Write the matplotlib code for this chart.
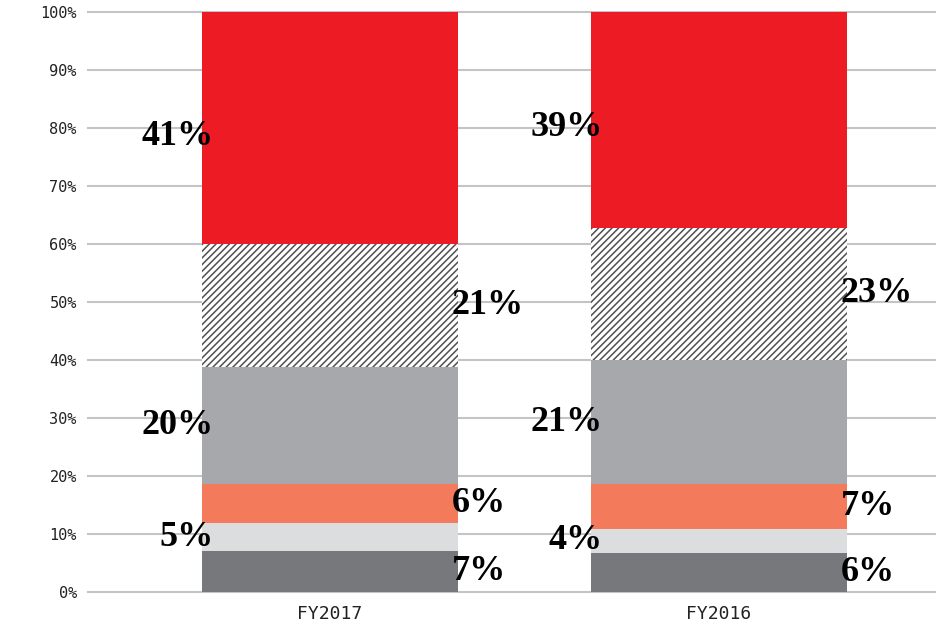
import numpy as np
import matplotlib
matplotlib.use('Agg')
import matplotlib.pyplot as plt

years = ['FY2017', 'FY2016']
# segments from bottom to top (share of total, %)
seg_values = [
    [7.0, 6.7],    # dark gray
    [4.9, 4.2],    # light gray
    [6.7, 7.7],    # orange
    [20.2, 21.4],  # gray
    [21.2, 22.8],  # hatched
    [40.0, 37.2],  # red
]
seg_labels = [
    ['7%', '6%'],
    ['5%', '4%'],
    ['6%', '7%'],
    ['20%', '21%'],
    ['21%', '23%'],
    ['41%', '39%'],
]
seg_colors = ['#77787b', '#dcdddf', '#f37b5b', '#a7a8ab', 'white', '#ed1c24']
seg_hatch = [None, None, None, None, '/////', None]
label_side = ['right', 'left', 'right', 'left', 'right', 'left']
label_nudge = [0, 0, 0, 0, 0, -1.4]  # top labels sit a bit low

plt.rcParams['hatch.linewidth'] = 1.1

fig = plt.figure(figsize=(9.41, 6.28), dpi=100)
ax = fig.add_axes([0.0935, 0.0573, 0.9, 0.9236])

x = np.arange(len(years))
width = 0.658
bottom = np.zeros(len(years))
for vals, labs, col, h, side, nud in zip(seg_values, seg_labels, seg_colors,
                                         seg_hatch, label_side, label_nudge):
    vals = np.array(vals)
    if h:
        ax.bar(x, vals, width, bottom=bottom, color=col, hatch=h,
               edgecolor='#505050', linewidth=0, zorder=3)
    else:
        ax.bar(x, vals, width, bottom=bottom, color=col, linewidth=0, zorder=3)
    mids = bottom + vals / 2 + nud
    for xi, m, lab in zip(x, mids, labs):
        if side == 'left':
            tx, ha = xi - width / 2 + 0.03, 'right'
        else:
            tx, ha = xi + width / 2 - 0.016, 'left'
        ax.text(tx, m, lab, ha=ha, va='center', fontsize=26,
                family='Liberation Serif', fontweight='bold', color='black', zorder=5)
    bottom = bottom + vals

for t in range(0, 101, 10):
    ax.axhline(t, color='#c4c4c4', lw=1.5, zorder=1, clip_on=False)

ax.set_xlim(-0.622, 1.555)
ax.set_ylim(0, 100)
ax.set_yticks(range(0, 101, 10))
ax.set_yticklabels(['%d%%' % t for t in range(0, 101, 10)],
                   family='DejaVu Sans Mono', fontsize=11, color='#222222')
ax.set_xticks(x)
ax.set_xticklabels(years, family='DejaVu Sans Mono', fontsize=13, color='#222222')
ax.tick_params(axis='y', length=0, pad=8)
ax.tick_params(axis='x', length=0, pad=9)
for s in ax.spines.values():
    s.set_visible(False)

fig.savefig('out.png', dpi=100)
